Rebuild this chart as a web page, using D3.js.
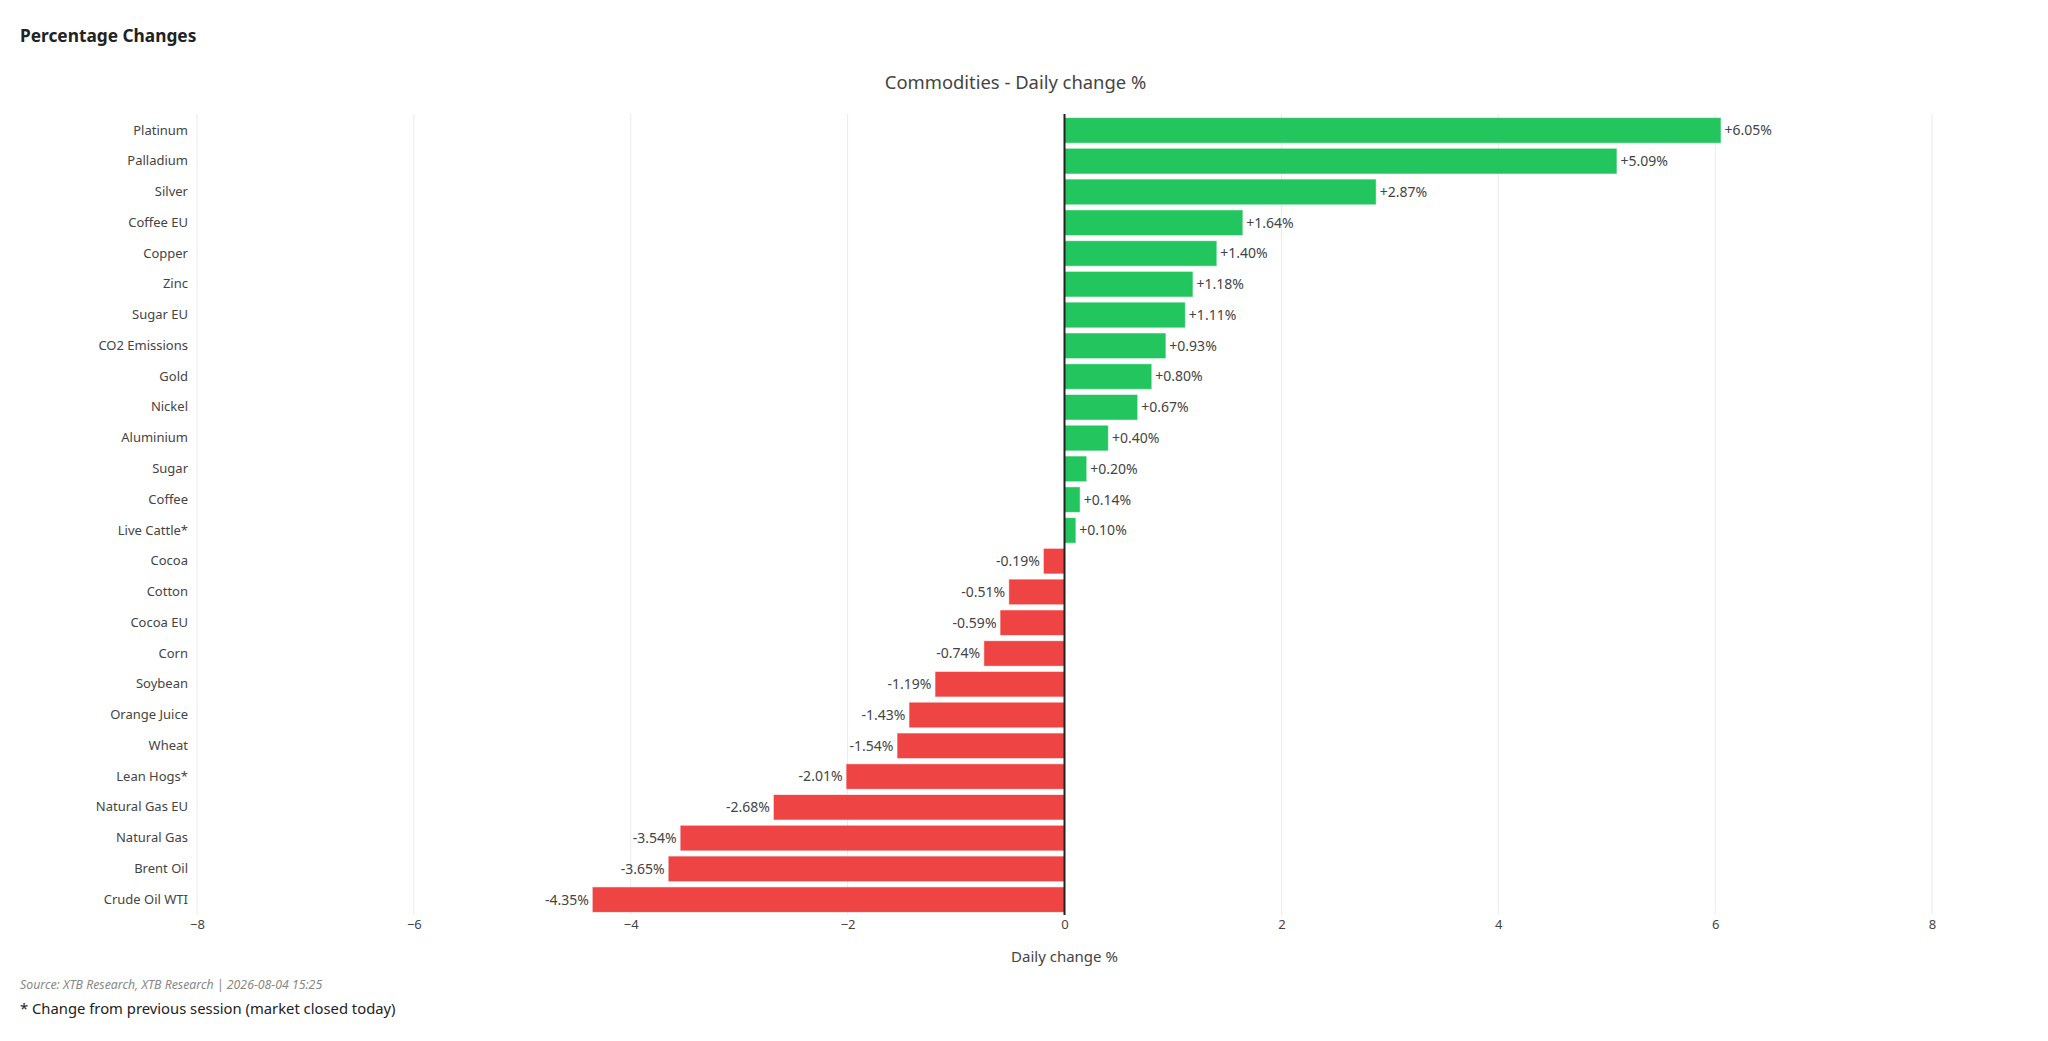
<!DOCTYPE html>
<html>
<head>
<meta charset="utf-8">
<script src="https://cdn.jsdelivr.net/npm/d3@7"></script>
<style>
  body { margin: 0; background: #fff; font-family: "Noto Sans", sans-serif; }
  svg text { fill: #444; }
</style>
</head>
<body>
<svg id="chart" width="2048" height="1041"></svg>
<script>
// commodities, top to bottom
const commodities = ["Platinum", "Palladium", "Silver", "Coffee EU", "Copper", "Zinc", "Sugar EU",
  "CO2 Emissions", "Gold", "Nickel", "Aluminium", "Sugar", "Coffee", "Live Cattle*", "Cocoa",
  "Cotton", "Cocoa EU", "Corn", "Soybean", "Orange Juice", "Wheat", "Lean Hogs*", "Natural Gas EU",
  "Natural Gas", "Brent Oil", "Crude Oil WTI"]
const changes = [6.05, 5.09, 2.87, 1.64, 1.40, 1.18, 1.11, 0.93, 0.80, 0.67, 0.40, 0.20, 0.14, 0.10,
  -0.19, -0.51, -0.59, -0.74, -1.19, -1.43, -1.54, -2.01, -2.68, -3.54, -3.65, -4.35]
const xTicks = [-8, -6, -4, -2, 0, 2, 4, 6, 8]

let plot_left = 197, plot_right = 1932, plot_top = 114, plot_bottom = 915

let data = commodities.map((c, i) => ({name: c, value: changes[i]}))

let svg = d3.select("#chart")

let x = d3.scaleLinear().domain([-8, 8]).range([plot_left, plot_right])
let y = d3.scaleBand().domain(commodities).range([plot_top + 1, plot_bottom])
    .paddingInner(0.2).paddingOuter(0.1)

//titles
svg.append("text").attr("x", 20).attr("y", 42)
    .style("font-size", "17.3px").style("font-weight", "bold").style("fill", "#222")
    .text("Percentage Changes")
svg.append("text").attr("x", x(0) - 49).attr("y", 89).attr("text-anchor", "middle")
    .style("font-size", "18.4px").style("fill", "#444")
    .text("Commodities - Daily change %")

//grid
svg.append("g").selectAll("line").data(xTicks).join("line")
    .attr("x1", d => x(d)).attr("x2", d => x(d))
    .attr("y1", plot_top).attr("y2", plot_bottom)
    .style("stroke", "#ebebeb").style("stroke-width", 1)

//x axis (no domain line)
let xa = svg.append("g").attr("transform", "translate(0," + plot_bottom + ")")
    .call(d3.axisBottom(x).tickValues(xTicks).tickSize(0).tickPadding(5))
xa.select(".domain").remove()
xa.selectAll("text").style("font-size", "13px").style("fill", "#444").style("font-family", "Noto Sans")

svg.append("text").attr("x", x(0)).attr("y", 962).attr("text-anchor", "middle")
    .style("font-size", "15px").text("Daily change %")

//category labels
let ya = svg.append("g").attr("transform", "translate(" + (plot_left - 9) + ",0)")
    .call(d3.axisLeft(y).tickSize(0).tickPadding(0))
ya.select(".domain").remove()
ya.selectAll("text").style("font-size", "13px").style("fill", "#444").style("font-family", "Noto Sans")

//bars
svg.append("g").selectAll("rect").data(data).join("rect")
    .attr("x", d => x(Math.min(0, d.value)))
    .attr("y", d => y(d.name))
    .attr("width", d => Math.abs(x(d.value) - x(0)))
    .attr("height", y.bandwidth())
    .style("fill", d => d.value >= 0 ? "#22c55e" : "#ef4444")
    .style("stroke", d => d.value >= 0 ? "rgba(34,197,94,0.45)" : "rgba(239,68,68,0.35)")
    .style("stroke-width", 1)

//value labels
svg.append("g").selectAll("text").data(data).join("text")
    .attr("x", d => d.value >= 0 ? x(d.value) + 4 : x(d.value) - 4)
    .attr("y", d => y(d.name) + y.bandwidth() / 2)
    .attr("dy", "0.35em")
    .attr("text-anchor", d => d.value >= 0 ? "start" : "end")
    .style("font-size", "14px").style("fill", "#444")
    .text(d => (d.value >= 0 ? "+" : "") + d.value.toFixed(2) + "%")

//zero line
svg.append("line").attr("x1", x(0)).attr("x2", x(0)).attr("y1", plot_top).attr("y2", plot_bottom)
    .style("stroke", "#222").style("stroke-width", 2)

//footer
svg.append("text").attr("x", 20).attr("y", 989)
    .style("font-size", "12.3px").style("font-style", "italic").style("fill", "#888")
    .text("Source: XTB Research, XTB Research | 2026-08-04 15:25")
svg.append("text").attr("x", 20).attr("y", 1014)
    .style("font-size", "14.8px").style("fill", "#222")
    .text("* Change from previous session (market closed today)")
</script>
</body>
</html>
